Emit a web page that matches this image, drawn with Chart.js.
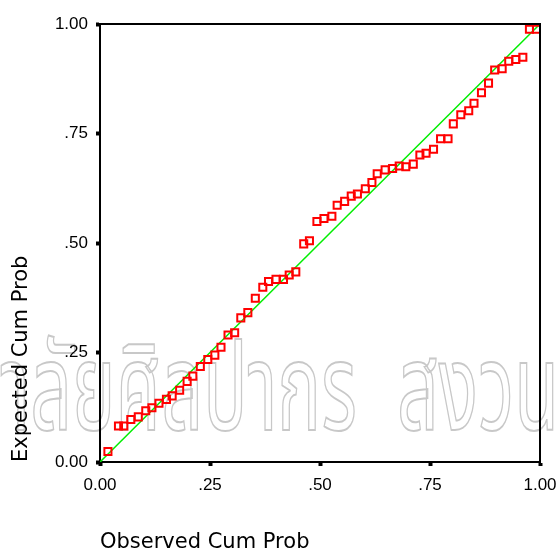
<!DOCTYPE html>
<html>
<head>
<meta charset="utf-8">
<script src="https://cdn.jsdelivr.net/npm/chart.js@4"></script>
<style>
  html, body { margin: 0; padding: 0; background: #fff; }
</style>
</head>
<body>
<canvas id="ppChart" width="556" height="555"></canvas>
<script>
// P-P plot values
const observed = [
  0.018, 0.042, 0.054, 0.070, 0.087, 0.104, 0.118, 0.134, 0.151, 0.164,
  0.181, 0.198, 0.211, 0.228, 0.245, 0.261, 0.275, 0.291, 0.306, 0.320,
  0.336, 0.353, 0.370, 0.383, 0.400, 0.417, 0.430, 0.445, 0.463, 0.476,
  0.493, 0.509, 0.527, 0.539, 0.556, 0.571, 0.585, 0.603, 0.618, 0.630,
  0.648, 0.665, 0.680, 0.695, 0.712, 0.727, 0.741, 0.758, 0.774, 0.791,
  0.803, 0.820, 0.838, 0.850, 0.867, 0.883, 0.897, 0.914, 0.929, 0.945,
  0.961, 0.976, 0.992
];
const expected = [
  0.024, 0.082, 0.082, 0.097, 0.103, 0.117, 0.124, 0.134, 0.143, 0.151,
  0.164, 0.184, 0.196, 0.218, 0.234, 0.244, 0.262, 0.290, 0.295, 0.329,
  0.341, 0.374, 0.399, 0.412, 0.417, 0.417, 0.427, 0.434, 0.498, 0.505,
  0.549, 0.556, 0.561, 0.586, 0.595, 0.607, 0.612, 0.624, 0.638, 0.658,
  0.667, 0.670, 0.676, 0.674, 0.680, 0.701, 0.705, 0.714, 0.738, 0.738,
  0.772, 0.793, 0.802, 0.819, 0.843, 0.865, 0.895, 0.898, 0.915, 0.919,
  0.924, 0.988, 0.988
];
const diagonal = [0, 1];
const tickValues = [0, 0.25, 0.5, 0.75, 1];
const tickLabels = ["0.00", ".25", ".50", ".75", "1.00"];
const xTitle = "Observed Cum Prob";
const yTitle = "Expected Cum Prob";
const watermarkWords = ["มหาวิทยาลัยศิลปากร", "สงวนลิขสิทธิ์"];

const points = observed.map((x, i) => ({ x: x, y: expected[i] }));
const diagPoints = diagonal.map(v => ({ x: v, y: v }));

// white background + outlined watermark behind everything
const backdrop = {
  id: "backdrop",
  beforeDraw(chart) {
    const c = chart.ctx;
    c.save();
    c.fillStyle = "#fff";
    c.fillRect(0, 0, chart.width, chart.height);
    c.font = '122px "Noto Sans Thai", "Noto Sans Thai Looped", Loma, Garuda, Norasi, sans-serif';
    c.strokeStyle = "#c8c8c8";
    c.lineWidth = 2;
    const sx = 0.6;
    // first word ends at x=357, second starts at x=397
    c.save();
    c.translate(357, 430);
    c.scale(sx, 1);
    c.textAlign = "right";
    c.strokeText(watermarkWords[0], 0, 0);
    c.restore();
    c.translate(397, 430);
    c.scale(sx, 1);
    c.textAlign = "left";
    c.strokeText(watermarkWords[1], 0, 0);
    c.restore();
  }
};

// top and right side of the frame
const frame = {
  id: "frame",
  afterDatasetsDraw(chart) {
    const a = chart.chartArea;
    const c = chart.ctx;
    c.save();
    c.strokeStyle = "#000";
    c.lineWidth = 2;
    c.beginPath();
    c.moveTo(a.left, a.top);
    c.lineTo(a.right, a.top);
    c.lineTo(a.right, a.bottom);
    c.stroke();
    c.restore();
  }
};

function axisOpts(title, extra) {
  return Object.assign({
    type: "linear",
    min: 0,
    max: 1,
    afterBuildTicks: s => { s.ticks = tickValues.map(v => ({ value: v })); },
    ticks: {
      color: "#000",
      font: { family: "Liberation Sans", size: 17 },
      callback: v => tickLabels[tickValues.indexOf(v)]
    },
    grid: {
      drawOnChartArea: false,
      drawTicks: true,
      tickLength: 4,
      tickWidth: 4,
      tickColor: "#000"
    },
    border: { display: true, color: "#000", width: 2 },
    title: {
      display: true,
      text: title,
      align: "start",
      color: "#000",
      font: { family: "DejaVu Sans", size: 21 }
    }
  }, extra);
}

const xAxis = axisOpts(xTitle, {
  afterFit: s => { s.height = 93; s.paddingLeft = 0; s.paddingRight = 0; }
});
xAxis.ticks.padding = 9;
xAxis.title.padding = { top: 0, bottom: 0 };

const yAxis = axisOpts(yTitle, {
  afterFit: s => { s.width = 100; s.paddingTop = 0; s.paddingBottom = 0; }
});
yAxis.ticks.padding = 8;
yAxis.title.padding = { top: 9, bottom: 0 };

new Chart(document.getElementById("ppChart"), {
  data: {
    datasets: [
      {
        type: "scatter",
        data: points,
        order: 0,
        pointStyle: "rect",
        pointRadius: 5,
        pointBorderWidth: 2,
        borderColor: "#ff0000",
        backgroundColor: "rgba(0,0,0,0)"
      },
      {
        type: "line",
        data: diagPoints,
        order: 1,
        borderColor: "#00ee00",
        borderWidth: 1.5,
        pointRadius: 0,
        fill: false
      }
    ]
  },
  options: {
    responsive: false,
    animation: false,
    layout: { padding: { top: 24, right: 16, bottom: 0, left: 0 } },
    plugins: {
      legend: { display: false },
      tooltip: { enabled: false }
    },
    scales: { x: xAxis, y: yAxis }
  },
  plugins: [backdrop, frame]
});
</script>
</body>
</html>
